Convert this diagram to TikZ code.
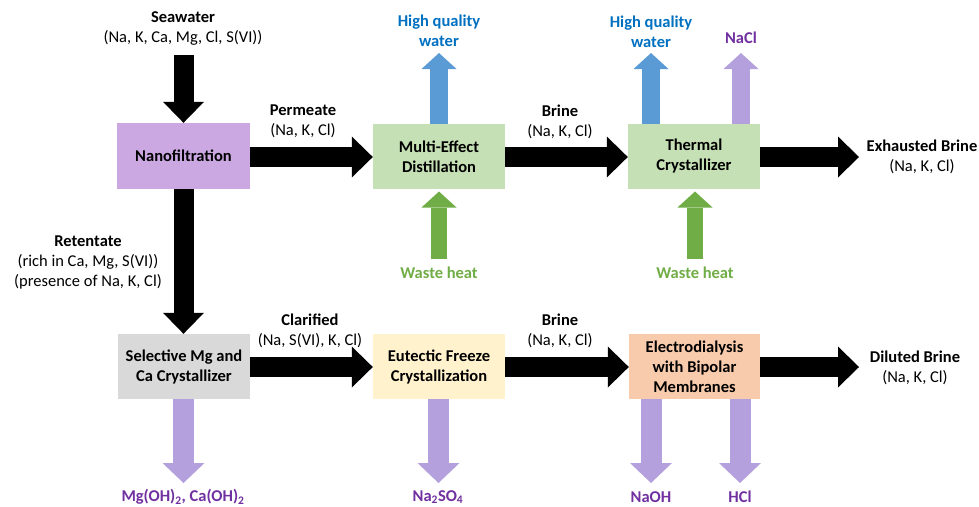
\documentclass[tikz,border=0pt]{standalone}
\usepackage{fontspec}
\setmainfont{Carlito}
\usetikzlibrary{arrows.meta}
\definecolor{boxpurple}{HTML}{CCA8E3}
\definecolor{boxgreen}{HTML}{C5E0B4}
\definecolor{boxgray}{HTML}{D9D9D9}
\definecolor{boxyellow}{HTML}{FFF2CC}
\definecolor{boxorange}{HTML}{F8CBAD}
\definecolor{arrblue}{HTML}{5B9BD5}
\definecolor{arrgreen}{HTML}{70AD47}
\definecolor{arrpurple}{HTML}{B4A0DC}
\definecolor{txtblue}{HTML}{0070C0}
\definecolor{txtgreen}{HTML}{70AD47}
\definecolor{txtpurple}{HTML}{7030A0}
\tikzset{
  procbox/.style={minimum width=132pt, minimum height=65pt, inner sep=0pt, align=center,
    font=\fontsize{16.5}{20}\selectfont\bfseries},
  lbl/.style={inner sep=0pt, align=center, font=\fontsize{16.5}{20}\selectfont},
  blbl/.style={lbl, font=\fontsize{16.5}{20}\selectfont\bfseries},
  blkarrow/.style={line width=20pt, draw=black, -{Triangle[width=41pt,length=21pt,line width=0pt]}},
  uparrow/.style={line width=18pt, -{Triangle[width=35pt,length=16pt,line width=0pt]}},
  downarrow/.style={line width=21pt, draw=arrpurple, -{Triangle[width=42pt,length=20pt,line width=0pt]}},
}
\begin{document}
\begin{tikzpicture}[x=1pt,y=-1pt]
\useasboundingbox (0,0) rectangle (979,506);
% process boxes
\node[procbox, fill=boxpurple, minimum width=133pt, minimum height=66pt] (nf) at (183.5,156) {Nanofiltration};
\node[procbox, fill=boxgreen] (med) at (439,156.5) {Multi-Effect\\Distillation};
\node[procbox, fill=boxgreen] (tc) at (694,156.5) {Thermal\\Crystallizer};
\node[procbox, fill=boxgray] (sel) at (184,366.5) {Selective Mg and\\Ca Crystallizer};
\node[procbox, fill=boxyellow] (eut) at (439,366.5) {Eutectic Freeze\\Crystallization};
\node[procbox, fill=boxorange, minimum width=131pt] (ed) at (694.5,366.5) {Electrodialysis\\with Bipolar\\Membranes};

% labels
\node[lbl] (seaw) at (183,28.5) {\textbf{Seawater}\\(Na, K, Ca, Mg, Cl, S(VI))};
\node[lbl] (perm) at (303,121.5) {\textbf{Permeate}\\(Na, K, Cl)};
\node[blbl, text=txtblue] (hq1) at (439,31) {High quality\\water};
\node[lbl] (brine1) at (560,121.5) {\textbf{Brine}\\(Na, K, Cl)};
\node[blbl, text=txtblue] (hq2) at (651,32) {High quality\\water};
\node[blbl, text=txtpurple] (nacl) at (741,38) {NaCl};
\node[lbl] (exh) at (922,157) {\textbf{Exhausted Brine}\\(Na, K, Cl)};
\node[lbl] (ret) at (88,262) {\textbf{Retentate}\\(rich in Ca, Mg, S(VI))\\(presence of Na, K, Cl)};
\node[lbl] (clar) at (310,330.5) {\textbf{Clarified}\\(Na, S(VI), K, Cl)};
\node[lbl] (brine2) at (560,330.5) {\textbf{Brine}\\(Na, K, Cl)};
\node[lbl] (dil) at (915,368) {\textbf{Diluted Brine}\\(Na, K, Cl)};
\node[blbl, text=txtgreen] (wh1) at (439,273) {Waste heat};
\node[blbl, text=txtgreen] (wh2) at (695,273) {Waste heat};
\node[blbl, text=txtpurple] (mgoh) at (183,497) {Mg(OH)\textsubscript{2}, Ca(OH)\textsubscript{2}};
\node[blbl, text=txtpurple] (naso) at (438,497) {Na\textsubscript{2}SO\textsubscript{4}};
\node[blbl, text=txtpurple] (naoh) at (651,497) {NaOH};
\node[blbl, text=txtpurple] (hcl) at (740,497) {HCl};

% coordinates for free ends
\coordinate (sw0) at (183.5,55);
\coordinate (exh0) at (859,157);
\coordinate (dil0) at (859,367);
\coordinate (hq1a) at (439,124);
\coordinate (hq1b) at (439,53);
\coordinate (hq2a) at (651,124);
\coordinate (hq2b) at (651,53);
\coordinate (nacla) at (741,124);
\coordinate (naclb) at (741,53);
\coordinate (wh1a) at (439,259);
\coordinate (wh1b) at (439,191.5);
\coordinate (wh2a) at (695,259);
\coordinate (wh2b) at (695,191.5);
\coordinate (mga) at (183.5,399);
\coordinate (mgb) at (183.5,483);
\coordinate (nasa) at (438.5,399);
\coordinate (nasb) at (438.5,483);
\coordinate (naoha) at (651,399);
\coordinate (naohb) at (651,483);
\coordinate (hcla) at (740,399);
\coordinate (hclb) at (740,483);

% black flow arrows
\draw[blkarrow] (sw0) -- (nf.north);
\draw[blkarrow] (nf.east |- 0,157) -- (med.west |- 0,157);
\draw[blkarrow] (nf.south) -- (sel.north -| nf.south);
\draw[blkarrow] (med.east |- 0,157) -- (tc.west |- 0,157);
\draw[blkarrow] (tc.east |- 0,157) -- (exh0);
\draw[blkarrow] (sel.east |- 0,367) -- (eut.west |- 0,367);
\draw[blkarrow] (eut.east |- 0,367) -- (ed.west |- 0,367);
\draw[blkarrow] (ed.east |- 0,367) -- (dil0);

% product / heat arrows
\draw[uparrow, draw=arrblue] (hq1a) -- (hq1b);
\draw[uparrow, draw=arrblue] (hq2a) -- (hq2b);
\draw[uparrow, draw=arrpurple] (nacla) -- (naclb);
\draw[uparrow, draw=arrgreen, line width=16pt] (wh1a) -- (wh1b);
\draw[uparrow, draw=arrgreen, line width=16pt] (wh2a) -- (wh2b);
\draw[downarrow] (mga) -- (mgb);
\draw[downarrow] (nasa) -- (nasb);
\draw[downarrow] (naoha) -- (naohb);
\draw[downarrow] (hcla) -- (hclb);
\end{tikzpicture}
\end{document}
